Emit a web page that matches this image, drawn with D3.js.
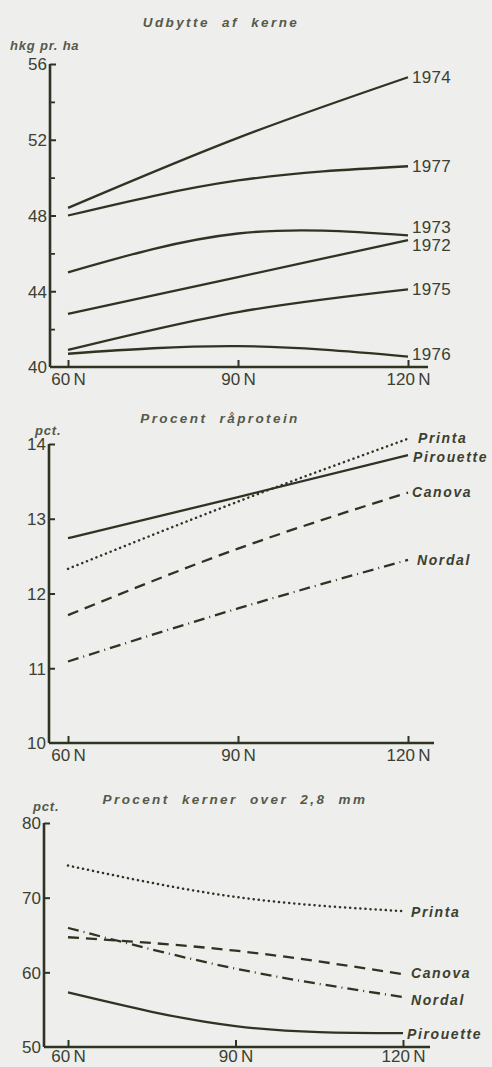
<!DOCTYPE html>
<html>
<head>
<meta charset="utf-8">
<script src="https://cdn.jsdelivr.net/npm/d3@7"></script>
<style>
  html, body { margin: 0; padding: 0; background: #eeeeec; }
  svg { display: block; }
  .tick text { font-family: "Liberation Sans", Arial, sans-serif; fill: #3b4030; }
</style>
</head>
<body>
<div id="chart"></div>
<script>
// niveauer af kvælstof (x)
const nLevels = [60, 90, 120];

// Udbytte af kerne, hkg pr. ha
const yield1974 = [48.4, 52.1, 55.3];
const yield1977 = [48.0, 49.85, 50.6];
const yield1973 = [45.0, 47.05, 46.95];
const yield1972 = [42.8, 44.75, 46.7];
const yield1975 = [40.9, 42.9, 44.1];
const yield1976 = [40.7, 41.1, 40.55];

// Procent råprotein
const proteinPrinta = [12.33, 13.23, 14.07];
const proteinPirouette = [12.74, 13.29, 13.85];
const proteinCanova = [11.71, 12.6, 13.35];
const proteinNordal = [11.09, 11.8, 12.45];

// Procent kerner over 2,8 mm
const kernerPrinta = [74.3, 70.1, 68.2];
const kernerCanova = [64.7, 62.9, 59.75];
const kernerNordal = [65.95, 60.5, 56.7];
const kernerPirouette = [57.3, 52.8, 51.85];

// akse-ticks
const yieldTicks = [40, 44, 48, 52, 56];
const yieldMinor = [42, 46, 50, 54];
const proteinTicks = [10, 11, 12, 13, 14];
const kernerTicks = [50, 60, 70, 80];

const INK = '#2f3422';
const TEXT = '#3b4030';
const DASH = { solid: null, dot: '0.1,5', dash: '11,7', dashdot: '11,5,1,5' };

const svg = d3.select('#chart').append('svg')
  .attr('width', 492).attr('height', 1067);

function drawPanel(p) {
  const x = d3.scaleLinear().domain([60, 120]).range(p.xRange);
  const y = d3.scaleLinear().domain(p.yDomain).range(p.yRange);
  const g = svg.append('g');

  // titel
  g.append('text')
    .attr('x', p.titleX).attr('y', p.titleY)
    .attr('text-anchor', 'middle')
    .style('font', 'italic bold 13.5px "Liberation Sans", Arial, sans-serif')
    .style('letter-spacing', '2.4px')
    .attr('fill', '#55594a')
    .attr('xml:space', 'preserve')
    .text(p.title);

  // enhed
  g.append('text')
    .attr('x', p.unitX).attr('y', p.unitY)
    .style('font', 'italic bold 13px "Liberation Sans", Arial, sans-serif')
    .style('letter-spacing', '0.8px')
    .attr('fill', '#55594a')
    .text(p.unit);

  // y-akse
  const yAxis = g.append('g')
    .attr('transform', `translate(${p.axisX},0)`)
    .call(d3.axisLeft(y).tickValues(p.yTicks).tickSizeInner(-6).tickSizeOuter(0)
      .tickPadding(3).tickFormat(d3.format('d')));
  yAxis.select('.domain').remove();
  yAxis.selectAll('.tick line').attr('stroke', INK).attr('stroke-width', 2);
  yAxis.selectAll('.tick text').style('font-size', '17px').attr('dy', '0.35em');
  // nederste tick skal ikke tegnes
  yAxis.selectAll('.tick').filter(d => d === p.yDomain[0]).select('line').remove();

  if (p.yMinor) {
    const minor = g.append('g')
      .attr('transform', `translate(${p.axisX},0)`)
      .call(d3.axisLeft(y).tickValues(p.yMinor).tickSizeInner(-5).tickSizeOuter(0).tickFormat(''));
    minor.select('.domain').remove();
    minor.selectAll('.tick line').attr('stroke', INK).attr('stroke-width', 1.8);
  }

  g.append('line')
    .attr('x1', p.axisX).attr('x2', p.axisX)
    .attr('y1', y(p.yDomain[1])).attr('y2', y(p.yDomain[0]))
    .attr('stroke', INK).attr('stroke-width', 2.6);

  // x-akse
  const xAxis = g.append('g')
    .attr('transform', `translate(0,${y(p.yDomain[0])})`)
    .call(d3.axisBottom(x).tickValues(nLevels).tickSizeInner(-7).tickSizeOuter(0)
      .tickPadding(p.xPad).tickFormat(d => d + '\u2009N'));
  xAxis.select('.domain').remove();
  xAxis.selectAll('.tick line').attr('stroke', INK).attr('stroke-width', 2);
  xAxis.selectAll('.tick text').style('font-size', '17px').attr('dy', '0.75em');

  g.append('line')
    .attr('x1', p.axisX).attr('x2', p.xAxisEnd)
    .attr('y1', y(p.yDomain[0])).attr('y2', y(p.yDomain[0]))
    .attr('stroke', INK).attr('stroke-width', 2.6);

  // kurver
  const line = d3.line()
    .x((d, i) => x(nLevels[i]))
    .y(d => y(d))
    .curve(d3.curveNatural);

  p.series.forEach(s => {
    g.append('path')
      .datum(s.values)
      .attr('d', line)
      .attr('fill', 'none')
      .attr('stroke', INK)
      .attr('stroke-width', s.style === 'dot' ? 2.5 : 2.3)
      .attr('stroke-linecap', s.style === 'dot' ? 'round' : 'butt')
      .attr('stroke-dasharray', DASH[s.style]);

    g.append('text')
      .attr('x', x(120) + p.labelDx + (s.dx || 0))
      .attr('y', y(s.values[2]) + (s.dy || 0))
      .attr('dy', '0.35em')
      .style('font', p.labelFont)
      .style('letter-spacing', p.labelSpacing)
      .attr('fill', TEXT)
      .text(s.name);
  });
}

drawPanel({
  title: 'Udbytte  af  kerne', titleX: 221, titleY: 27,
  unit: 'hkg pr. ha', unitX: 10, unitY: 50,
  xRange: [68, 408], yDomain: [40, 56], yRange: [367, 64],
  axisX: 50, xAxisEnd: 428, xPad: 5,
  yTicks: yieldTicks, yMinor: yieldMinor,
  labelDx: 4, labelFont: '17px "Liberation Sans", Arial, sans-serif', labelSpacing: '0.3px',
  series: [
    { name: '1974', values: yield1974, style: 'solid' },
    { name: '1977', values: yield1977, style: 'solid' },
    { name: '1973', values: yield1973, style: 'solid', dy: -8 },
    { name: '1972', values: yield1972, style: 'solid', dy: 5 },
    { name: '1975', values: yield1975, style: 'solid' },
    { name: '1976', values: yield1976, style: 'solid', dy: -3 }
  ]
});

drawPanel({
  title: 'Procent  råprotein', titleX: 220, titleY: 423,
  unit: 'pct.', unitX: 35, unitY: 435,
  xRange: [68, 408], yDomain: [10, 14], yRange: [743, 444],
  axisX: 49, xAxisEnd: 434, xPad: 5,
  yTicks: proteinTicks,
  labelDx: 5, labelFont: 'italic bold 14px "Liberation Sans", Arial, sans-serif', labelSpacing: '1.6px',
  series: [
    { name: 'Printa', values: proteinPrinta, style: 'dot', dx: 5, dy: -1 },
    { name: 'Pirouette', values: proteinPirouette, style: 'solid', dy: 2 },
    { name: 'Canova', values: proteinCanova, style: 'dash', dx: -1, dy: 0 },
    { name: 'Nordal', values: proteinNordal, style: 'dashdot', dx: 4 }
  ]
});

drawPanel({
  title: 'Procent  kerner  over  2,8  mm', titleX: 235, titleY: 804,
  unit: 'pct.', unitX: 33, unitY: 811,
  xRange: [68, 403], yDomain: [50, 80], yRange: [1047, 823],
  axisX: 44, xAxisEnd: 430, xPad: 2,
  yTicks: kernerTicks,
  labelDx: 8, labelFont: 'italic bold 14px "Liberation Sans", Arial, sans-serif', labelSpacing: '1.6px',
  series: [
    { name: 'Printa', values: kernerPrinta, style: 'dot', dy: 1 },
    { name: 'Canova', values: kernerCanova, style: 'dash', dy: -1 },
    { name: 'Nordal', values: kernerNordal, style: 'dashdot', dy: 3 },
    { name: 'Pirouette', values: kernerPirouette, style: 'solid', dx: -4, dy: 1 }
  ]
});
</script>
</body>
</html>
